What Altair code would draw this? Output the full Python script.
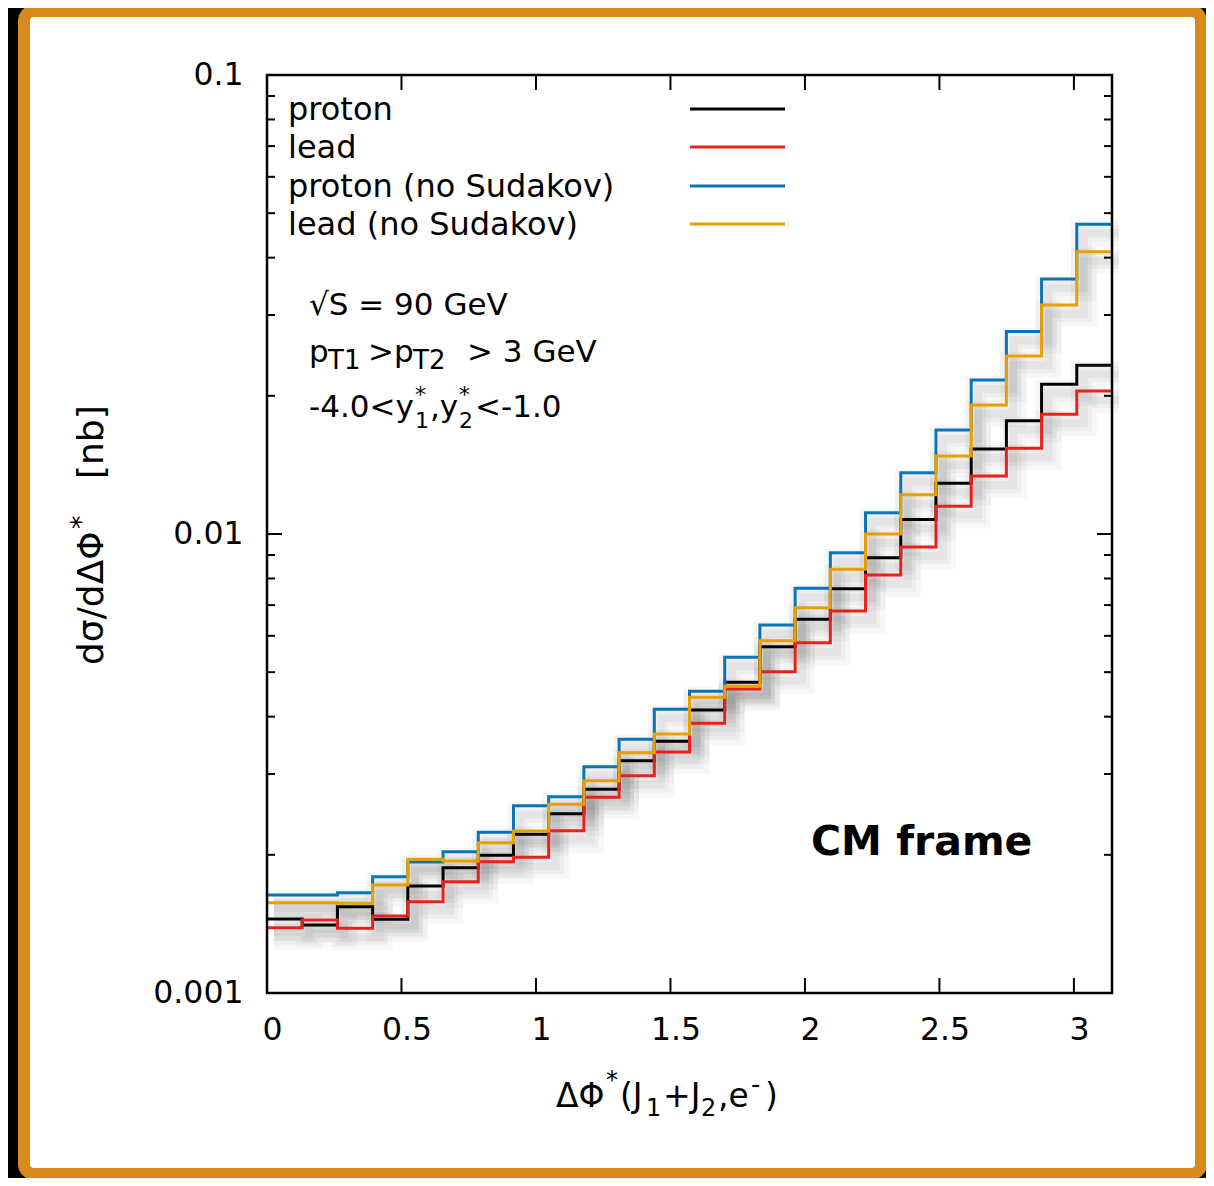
import altair as alt
import pandas as pd

# ---------------- data ----------------
bin_edges = [0.0, 0.1309, 0.2618, 0.3927, 0.5236, 0.6545, 0.7854, 0.9163,
             1.0472, 1.1781, 1.3090, 1.4399, 1.5708, 1.7017, 1.8326, 1.9635,
             2.0944, 2.2253, 2.3562, 2.4871, 2.6180, 2.7489, 2.8798, 3.0107, 3.1416]

proton = [1.449e-3, 1.406e-3, 1.542e-3, 1.447e-3, 1.711e-3, 1.875e-3, 1.995e-3, 2.217e-3,
          2.458e-3, 2.779e-3, 3.207e-3, 3.534e-3, 4.136e-3, 4.753e-3, 5.681e-3, 6.521e-3,
          7.600e-3, 8.881e-3, 10.76e-3, 12.90e-3, 15.32e-3, 17.65e-3, 21.19e-3, 23.31e-3]
lead = [1.388e-3, 1.443e-3, 1.384e-3, 1.471e-3, 1.581e-3, 1.748e-3, 1.932e-3, 1.975e-3,
        2.258e-3, 2.669e-3, 2.974e-3, 3.350e-3, 3.868e-3, 4.596e-3, 5.012e-3, 5.797e-3,
        6.797e-3, 8.138e-3, 9.370e-3, 11.49e-3, 13.38e-3, 15.37e-3, 18.23e-3, 20.49e-3]
proton_nosud = [1.635e-3, 1.635e-3, 1.654e-3, 1.792e-3, 1.929e-3, 2.032e-3, 2.239e-3, 2.559e-3,
                2.677e-3, 3.112e-3, 3.571e-3, 4.151e-3, 4.544e-3, 5.388e-3, 6.335e-3, 7.616e-3,
                9.105e-3, 11.13e-3, 13.60e-3, 16.85e-3, 21.66e-3, 27.60e-3, 35.94e-3, 47.28e-3]
lead_nosud = [1.573e-3, 1.573e-3, 1.568e-3, 1.719e-3, 1.956e-3, 1.939e-3, 2.126e-3, 2.254e-3,
              2.577e-3, 2.901e-3, 3.338e-3, 3.667e-3, 4.408e-3, 4.659e-3, 5.854e-3, 6.910e-3,
              8.380e-3, 10.00e-3, 12.18e-3, 14.79e-3, 19.10e-3, 24.42e-3, 31.54e-3, 41.21e-3]

series_names = ["proton", "lead", "proton (no Sudakov)", "lead (no Sudakov)"]
series_values = [proton, lead, proton_nosud, lead_nosud]
series_colors = ["#000000", "#e8221b", "#0a74b5", "#e8a000"]

x_ticks = [0, 0.5, 1, 1.5, 2, 2.5, 3]
x_major_marks = [0.5, 1, 1.5, 2, 2.5, 3]
y_ticks = [0.001, 0.01, 0.1]
y_major_marks = [0.01]
y_minor_marks = [0.002, 0.003, 0.004, 0.005, 0.006, 0.007, 0.008, 0.009,
                 0.02, 0.03, 0.04, 0.05, 0.06, 0.07, 0.08, 0.09]

# ---------------- layout ----------------
W, H = 845, 918          # plot area
X0, Y0 = 267, 75         # page position of plot origin (used for annotations)
FONT = "DejaVu Sans"
ONE = pd.DataFrame({"a": [0]})

rows = []
for name, vals in zip(series_names, series_values):
    for i, v in enumerate(vals):
        rows.append({"series": name, "x": bin_edges[i], "y": v})
    rows.append({"series": name, "x": bin_edges[-1], "y": vals[-1]})
df = pd.DataFrame(rows)

xscale = alt.Scale(domain=[0, bin_edges[-1]], nice=False, zero=False)
yscale = alt.Scale(type="log", domain=[0.001, 0.1], nice=False)

xaxis = alt.Axis(values=x_ticks, format=".1~f", labelFont=FONT, labelFontSize=31.5,
                 labelColor="black", ticks=False, tickSize=0, domain=False, grid=False,
                 labelPadding=21, labelOffset=5, labelFlush=False, zindex=1, title=None)
yaxis = alt.Axis(values=y_ticks, format=".3~f", labelFont=FONT, labelFontSize=31.5,
                 labelColor="black", ticks=False, tickSize=0, domain=False, grid=False,
                 labelPadding=24, zindex=1, title=None)

xenc = alt.X("x:Q", scale=xscale, axis=xaxis)
yenc = alt.Y("y:Q", scale=yscale, axis=yaxis)

layers = []

# decorative frame
layers.append(
    alt.Chart(ONE).mark_rect(fill="white", stroke="#d98a1c", strokeWidth=12, cornerRadius=10)
    .encode(x=alt.value(24 - X0), x2=alt.value(1201 - X0),
            y=alt.value(11 - Y0), y2=alt.value(1174 - Y0))
)

# soft shadows of the curves
for name in series_names:
    sub = df[df.series == name]
    for sw, op in [(26, 0.03), (16, 0.035), (8, 0.04)]:
        layers.append(
            alt.Chart(sub).mark_line(interpolate="step-after", color="black", opacity=op,
                                     strokeWidth=sw, xOffset=7, yOffset=9)
            .encode(x=xenc, y=yenc)
        )

# curves
for name, color in zip(series_names, series_colors):
    sub = df[df.series == name]
    layers.append(
        alt.Chart(sub).mark_line(interpolate="step-after", color=color, strokeWidth=3)
        .encode(x=xenc, y=yenc)
    )

# plot border
layers.append(
    alt.Chart(ONE).mark_rect(filled=False, stroke="black", strokeWidth=2.5)
    .encode(x=alt.value(0), x2=alt.value(W), y=alt.value(0), y2=alt.value(H))
)

# inward ticks
xt = pd.DataFrame({"x": x_major_marks})
for y1, y2 in [(H, H - 15), (0, 15)]:
    layers.append(alt.Chart(xt).mark_rule(color="black", strokeWidth=2)
                  .encode(x=xenc, y=alt.value(y1), y2=alt.value(y2)))
for vals, ln in [(y_major_marks, 15), (y_minor_marks, 8)]:
    yt = pd.DataFrame({"y": vals})
    for a, b in [(0, ln), (W - ln, W)]:
        layers.append(alt.Chart(yt).mark_rule(color="black", strokeWidth=2)
                      .encode(y=yenc, x=alt.value(a), x2=alt.value(b)))


def label(s, x, y, size=30, align="left", baseline="alphabetic", angle=0, weight="normal"):
    return (alt.Chart(ONE)
            .mark_text(text=s, font=FONT, fontSize=size, color="black", align=align,
                       baseline=baseline, angle=angle, fontWeight=weight)
            .encode(x=alt.value(x - X0), y=alt.value(y - Y0)))


# legend
legend_y = [110, 148, 187, 225]
for name, color, ly in zip(series_names, series_colors, legend_y):
    layers.append(label(name, 288, ly, size=32, baseline="middle"))
    layers.append(alt.Chart(ONE).mark_rule(color=color, strokeWidth=3)
                  .encode(x=alt.value(690 - X0), x2=alt.value(785 - X0), y=alt.value(ly - 1 - Y0)))

# annotation text (main pieces, subscripts and superscripts)
pieces = [
    ("√S = 90 GeV", 309, 315, 31),
    ("p", 309, 362, 31), ("T1", 328, 369, 26), (">", 368, 362, 31),
    ("p", 394, 362, 31), ("T2", 413, 369, 26), ("> 3 GeV", 467, 362, 31),
    ("-4.0<y", 309, 417, 31), ("*", 415, 402, 22), ("1", 415, 428, 22),
    (",y", 430, 417, 31), ("*", 459, 402, 22), ("2", 459, 428, 22),
    ("<-1.0", 475, 417, 31),
    # x-axis title
    ("ΔΦ", 556, 1107, 33), ("*", 606, 1088, 24), ("(J", 620, 1107, 33),
    ("1", 646, 1116, 24), ("+J", 663, 1107, 33), ("2", 701, 1116, 24),
    (",e", 718, 1107, 33), ("-", 751, 1093, 26), (")", 765, 1107, 33),
]
for s, x, y, sz in pieces:
    layers.append(label(s, x, y, size=sz))

layers.append(label("CM frame", 811, 855, size=41, weight="bold"))

# y-axis title (rotated), with raised asterisk
layers.append(label("dσ/dΔΦ", 103, 665, size=36, angle=270))
layers.append(label("*", 90, 529, size=27, angle=270))
layers.append(label("[nb]", 103, 479, size=36, angle=270))

chart = (
    alt.layer(*layers)
    .properties(width=W, height=H, background="black",
                autosize=alt.AutoSizeParams(type="none"),
                padding={"left": X0 - 8, "top": Y0 - 8, "right": 1206 - X0 - W, "bottom": 1178 - Y0 - H})
    .configure_view(strokeWidth=0)
)

chart.save("out.html", embed_options={"renderer": "svg", "actions": False})
